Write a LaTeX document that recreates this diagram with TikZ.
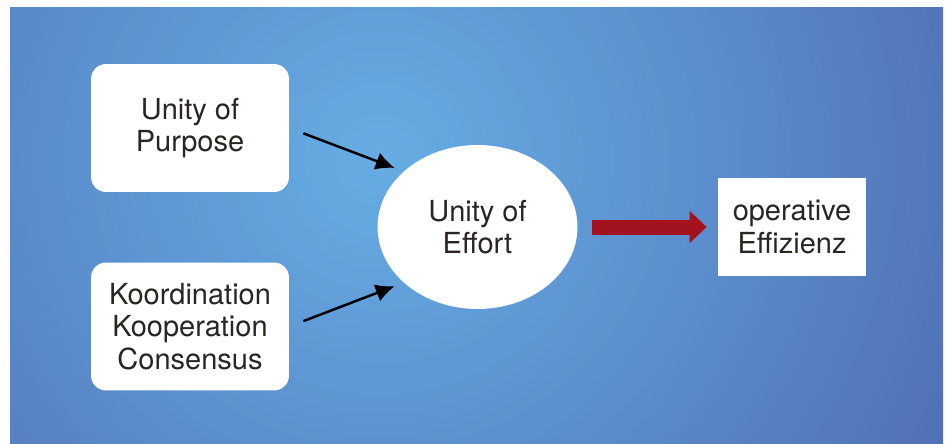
\documentclass[tikz,border=0pt]{standalone}
\usepackage{xcolor}
\usepackage{fontspec}
\setmainfont{TeX Gyre Heros}
\usepackage{tikz}
\usetikzlibrary{arrows.meta,shapes.geometric}
\definecolor{bglight}{HTML}{66ADE4}
\definecolor{bgdark}{HTML}{4B5EA8}
\definecolor{textdark}{HTML}{2B2522}
\definecolor{arrowred}{HTML}{A3121F}
\tikzset{
  label text/.style={text=textdark, align=center, font=\fontsize{16.5}{18.4}\selectfont},
  roundbox/.style={label text, fill=white, rounded corners=0.3cm, minimum width=3.96cm, minimum height=2.56cm},
  plainbox/.style={label text, fill=white, minimum width=2.96cm, minimum height=1.96cm},
  oval/.style={label text, ellipse, fill=white, minimum width=4cm, minimum height=3.28cm, inner sep=0pt},
  arr/.style={draw=black, line width=1.4pt, -{Latex[length=0.38cm,width=0.36cm]}},
  bigarr/.style={draw=arrowred, line width=0.3cm, -{Triangle[length=0.34cm,width=0.62cm]}}
}
\begin{document}
\begin{tikzpicture}[x=0.02cm, y=-0.02cm]
                            \useasboundingbox (0,0) rectangle (949,443);
                            \begin{scope}
                            \clip (10,7) rectangle (943,443);
                            \shade[inner color=bglight, outer color=bgdark] (380,160) circle (820);
                            \end{scope}
                            \node[roundbox] (purpose) at (190,128) {Unity of\\Purpose};
                            \node[roundbox] (koord) at (190,326.5) {Koordination\\Kooperation\\Consensus};
                            \node[oval] (effort) at (477.5,227) {Unity of\\Effort};
                            \node[plainbox] (effiz) at (792,227) {operative\\Effizienz};
                            \draw[arr, shorten <=0.3cm, shorten >=0.19cm] (purpose.east) -- (effort.143);
                            \draw[arr, shorten <=0.3cm, shorten >=0.19cm] (koord.east) -- (effort.217);
                            \draw[bigarr, shorten <=0.29cm, shorten >=0.22cm] (effort.east) -- (effiz.west);
                        \end{tikzpicture}
\end{document}
